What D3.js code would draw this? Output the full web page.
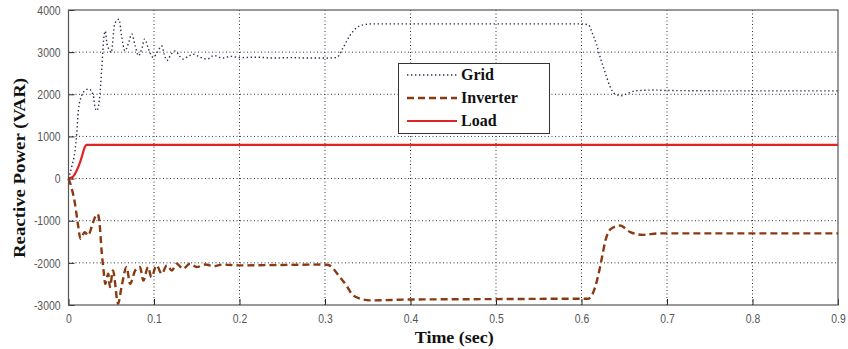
<!DOCTYPE html>
<html>
<head>
<meta charset="utf-8">
<script src="https://cdn.jsdelivr.net/npm/d3@7/dist/d3.min.js"></script>
<style>
  html, body { margin: 0; padding: 0; background: #fff; }
  svg { display: block; }
</style>
</head>
<body>
<svg id="chart" width="848" height="349"></svg>
<script>
// ---- Data ----
const xTicks = [0, 0.1, 0.2, 0.3, 0.4, 0.5, 0.6, 0.7, 0.8, 0.9];
const xTickLabels = ["0", "0.1", "0.2", "0.3", "0.4", "0.5", "0.6", "0.7", "0.8", "0.9"];
const yTicks = [-3000, -2000, -1000, 0, 1000, 2000, 3000, 4000];
const yTickLabels = ["-3000", "-2000", "-1000", "0", "1000", "2000", "3000", "4000"];
const seriesNames = ["Grid", "Inverter", "Load"];

const gridTime = [0, 0.004, 0.0076, 0.0096, 0.0115, 0.0154, 0.019, 0.024, 0.029, 0.031, 0.033, 0.036,
  0.039, 0.041, 0.043, 0.045, 0.048, 0.050, 0.054, 0.059, 0.062, 0.066, 0.070, 0.074, 0.078, 0.082,
  0.086, 0.089, 0.094, 0.099, 0.104, 0.109, 0.112, 0.115, 0.120, 0.125, 0.130, 0.134, 0.140, 0.146,
  0.154, 0.162, 0.170, 0.180, 0.190, 0.200, 0.220, 0.240, 0.260, 0.280, 0.300, 0.3136, 0.321, 0.329,
  0.337, 0.345, 0.355, 0.40, 0.50, 0.60, 0.608, 0.613, 0.6175, 0.623, 0.627, 0.633, 0.639, 0.647,
  0.654, 0.664, 0.684, 0.70, 0.80, 0.90];
const gridValues = [0, 300, 663, 1060, 1610, 1967, 2085, 2125, 1967, 1690, 1610, 1850,
  2640, 3270, 3500, 3200, 3050, 2990, 3670, 3780, 3400, 3030, 3200, 3430, 3150, 2915,
  3100, 3310, 3050, 2875, 3000, 3150, 2950, 2800, 2950, 3030, 2900, 2835, 2900, 2950,
  2880, 2835, 2920, 2860, 2900, 2870, 2880, 2860, 2870, 2860, 2860, 2870, 3100, 3390,
  3580, 3650, 3670, 3670, 3670, 3670, 3650, 3430, 3190, 2800, 2560, 2200, 2007, 1967,
  2020, 2085, 2100, 2090, 2080, 2080];

const inverterTime = [0, 0.004, 0.0076, 0.0115, 0.014, 0.019, 0.023, 0.027, 0.031, 0.034, 0.036,
  0.039, 0.041, 0.043, 0.0465, 0.0485, 0.052, 0.058, 0.062, 0.068, 0.072, 0.078, 0.0836, 0.0875,
  0.093, 0.097, 0.103, 0.109, 0.115, 0.121, 0.1265, 0.134, 0.142, 0.150, 0.16, 0.17, 0.18, 0.20,
  0.25, 0.30, 0.304, 0.3175, 0.325, 0.331, 0.341, 0.3525, 0.40, 0.50, 0.60, 0.608, 0.616, 0.62,
  0.624, 0.628, 0.634, 0.645, 0.657, 0.672, 0.69, 0.80, 0.90];
const inverterValues = [0, -250, -600, -1150, -1430, -1270, -1350, -1150, -917, -840, -995,
  -1785, -2180, -2500, -2260, -2575, -2180, -2970, -2575, -2100, -2500, -2180, -2100, -2420,
  -2100, -2340, -2060, -2260, -2060, -2180, -2020, -2140, -2020, -2100, -2040, -2080, -2040, -2060,
  -2050, -2040, -2050, -2340, -2535, -2730, -2850, -2890, -2870, -2860, -2850, -2850, -2575, -2260,
  -1865, -1470, -1200, -1115, -1270, -1335, -1300, -1300, -1300];

const loadTime = [0, 0.005, 0.0096, 0.0125, 0.0154, 0.019, 0.021, 0.9];
const loadValues = [0, 40, 190, 330, 505, 742, 800, 800];

// ---- Layout ----
const W = 848, H = 349;
const M = { left: 68.5, right: 10, top: 10, bottom: 44 };
const svg = d3.select("#chart");

const x = d3.scaleLinear().domain([0, 0.9]).range([M.left, W - M.right]);
const y = d3.scaleLinear().domain([-3000, 4000]).range([H - M.bottom, M.top]);

const tickFont = "'Liberation Sans', Arial, sans-serif";
const serif = "'Liberation Serif', 'Times New Roman', serif";

// grid lines
const gGrid = svg.append("g");
gGrid.selectAll("line.vx").data(xTicks.slice(1, -1)).join("line")
  .attr("x1", d => x(d)).attr("x2", d => x(d))
  .attr("y1", y(-3000)).attr("y2", y(4000))
  .attr("stroke", "#333").attr("stroke-width", 1).attr("stroke-dasharray", "1,2.5");
gGrid.selectAll("line.hy").data(yTicks.slice(1, -1)).join("line")
  .attr("x1", x(0)).attr("x2", x(0.9))
  .attr("y1", d => y(d)).attr("y2", d => y(d))
  .attr("stroke", "#333").attr("stroke-width", 1).attr("stroke-dasharray", "1,2.5");

// axes
const xAxis = d3.axisBottom(x).tickValues(xTicks).tickSizeInner(-6).tickSizeOuter(0)
  .tickFormat((d, i) => xTickLabels[i]).tickPadding(9);
const yAxis = d3.axisLeft(y).tickValues(yTicks).tickSizeInner(-6).tickSizeOuter(0)
  .tickFormat((d, i) => yTickLabels[i]).tickPadding(8);

const gx = svg.append("g").attr("transform", `translate(0,${y(-3000)})`).call(xAxis);
const gy = svg.append("g").attr("transform", `translate(${x(0)},0)`).call(yAxis);
[gx, gy].forEach(g => {
  g.select(".domain").remove();
  g.selectAll(".tick line").attr("stroke", "#222");
  g.selectAll(".tick text").attr("fill", "#555").style("font-family", tickFont).style("font-size", "13px")
    .each(function () {
      const len = this.getComputedTextLength();
      d3.select(this).attr("textLength", len * 0.8).attr("lengthAdjust", "spacingAndGlyphs");
    });
});

// box
svg.append("rect").attr("x", x(0)).attr("y", y(4000))
  .attr("width", x(0.9) - x(0)).attr("height", y(-3000) - y(4000))
  .attr("fill", "none").attr("stroke", "#555").attr("stroke-width", 1.2);

// series
const mk = (t, v) => t.map((tt, i) => [tt, v[i]]);
const lineGen = d3.line().x(d => x(d[0])).y(d => y(d[1])).curve(d3.curveMonotoneX);

svg.append("path").datum(mk(loadTime, loadValues)).attr("d", lineGen)
  .attr("fill", "none").attr("stroke", "#e02424").attr("stroke-width", 2.2);
svg.append("path").datum(mk(inverterTime, inverterValues)).attr("d", lineGen)
  .attr("fill", "none").attr("stroke", "#8a3a12").attr("stroke-width", 2.4)
  .attr("stroke-dasharray", "7,4");
svg.append("path").datum(mk(gridTime, gridValues)).attr("d", lineGen)
  .attr("fill", "none").attr("stroke", "#2a3050").attr("stroke-width", 1.4)
  .attr("stroke-dasharray", "1.4,2.6");

// axis labels
svg.append("text").attr("x", (x(0) + x(0.9)) / 2 + 1).attr("y", 343)
  .attr("text-anchor", "middle").style("font-family", serif).style("font-weight", "bold")
  .style("font-size", "17px").attr("fill", "#111")
  .attr("textLength", 79).attr("lengthAdjust", "spacingAndGlyphs").text("Time (sec)");
svg.append("text").attr("transform", `translate(25,${168}) rotate(-90)`)
  .attr("text-anchor", "middle").style("font-family", serif).style("font-weight", "bold")
  .style("font-size", "17px").attr("fill", "#111")
  .attr("textLength", 180).attr("lengthAdjust", "spacingAndGlyphs").text("Reactive Power (VAR)");

// legend
const lg = svg.append("g");
lg.append("rect").attr("x", 398.5).attr("y", 63.5).attr("width", 151).attr("height", 70)
  .attr("fill", "#fff").attr("stroke", "#333").attr("stroke-width", 1);
const legStyles = [
  { stroke: "#2a3050", w: 1.4, dash: "1.4,2.6" },
  { stroke: "#8a3a12", w: 2.4, dash: "7,4" },
  { stroke: "#e02424", w: 2.2, dash: null }
];
seriesNames.forEach((n, i) => {
  const yy = 75 + i * 23;
  const l = lg.append("line").attr("x1", 407).attr("x2", 457).attr("y1", yy).attr("y2", yy)
    .attr("stroke", legStyles[i].stroke).attr("stroke-width", legStyles[i].w);
  if (legStyles[i].dash) l.attr("stroke-dasharray", legStyles[i].dash);
  lg.append("text").attr("x", 461).attr("y", yy + 5).text(n)
    .style("font-family", serif).style("font-weight", "bold").style("font-size", "16px").attr("fill", "#111");
});
</script>
</body>
</html>
